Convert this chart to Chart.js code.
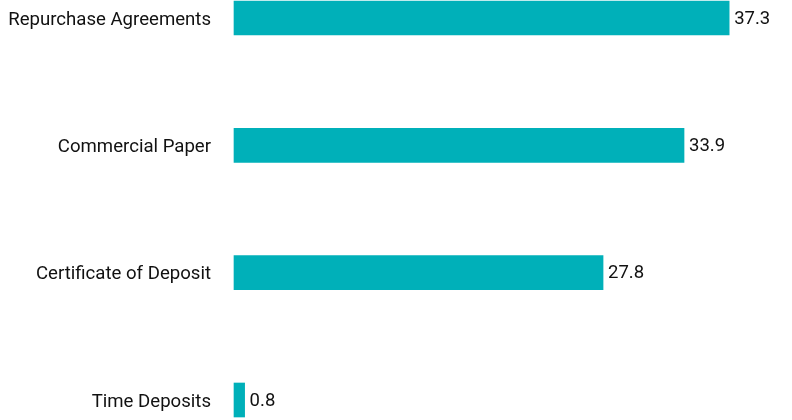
<!DOCTYPE html>
<html>
<head>
<meta charset="utf-8">
<script src="https://cdn.jsdelivr.net/npm/chart.js@4"></script>
<style>
  html, body { margin: 0; padding: 0; background: #fff; }
  #wrap { width: 792px; height: 420px; }
</style>
</head>
<body>
<div id="wrap"><canvas id="chartCanvas"></canvas></div>
<script>
var categories = ["Repurchase Agreements", "Commercial Paper", "Certificate of Deposit", "Time Deposits"];
var holdings = [37.3, 33.9, 27.8, 0.8];

// value labels at the end of each bar
var barLabels = {
  id: "barLabels",
  afterDatasetsDraw: function (chart) {
    var ctx = chart.ctx;
    var meta = chart.getDatasetMeta(0);
    ctx.save();
    ctx.font = "18.5px Roboto";
    ctx.fillStyle = "#111";
    ctx.textAlign = "left";
    ctx.textBaseline = "middle";
    meta.data.forEach(function (bar, i) {
      ctx.fillText(holdings[i].toFixed(1), bar.x + 5, bar.y + 1);
    });
    ctx.restore();
  }
};

var ctx = document.getElementById("chartCanvas");
var holdingsChart = new Chart(ctx, {
  type: "bar",
  data: {
    labels: categories,
    datasets: [
      {
        data: holdings,
        backgroundColor: "#00B0B9",
        borderWidth: 0,
        barThickness: 34,
        clip: false
      }
    ]
  },
  options: {
    indexAxis: "y",
    responsive: true,
    maintainAspectRatio: false,
    animation: false,
    layout: { padding: { top: 18, bottom: 20, left: 0, right: 27 } },
    plugins: {
      legend: { display: false },
      tooltip: { enabled: false }
    },
    scales: {
      x: {
        display: false,
        min: 0,
        max: 40
      },
      y: {
        offset: false,
        grid: { display: false },
        border: { display: false },
        afterFit: function (scale) {
          scale.width = 234;
          scale.paddingTop = 0;
          scale.paddingBottom = 0;
        },
        ticks: {
          padding: 15,
          labelOffset: 2,
          color: "#111",
          font: { family: "Roboto", size: 18.6 }
        }
      }
    }
  },
  plugins: [barLabels]
});
</script>
</body>
</html>
